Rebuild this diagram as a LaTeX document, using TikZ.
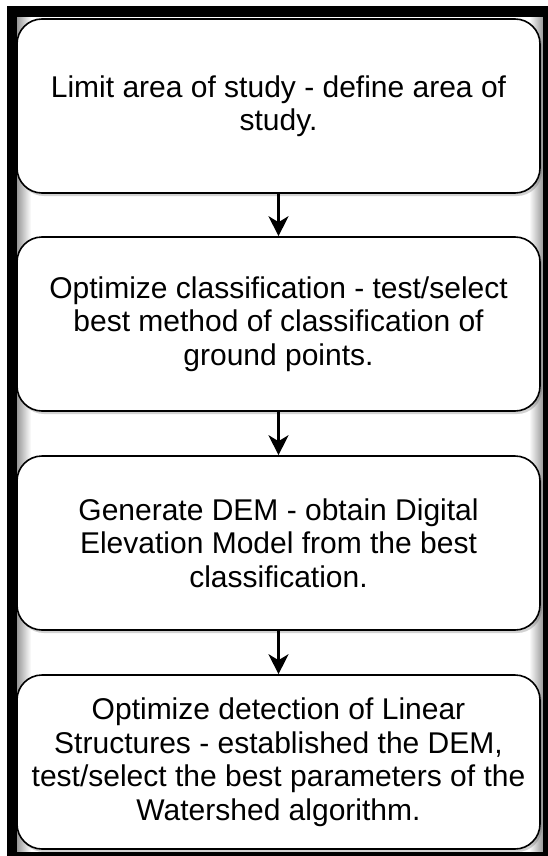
\documentclass[tikz,border=0pt]{standalone}
\usepackage{fontspec}
\setmainfont{Liberation Sans}
\usetikzlibrary{arrows.meta,shadows,fadings}
\tikzfading[name=fadeR, left color=transparent!0, right color=transparent!100]
\tikzfading[name=fadeL, left color=transparent!100, right color=transparent!0]
\begin{document}
\begin{tikzpicture}[x=1pt,y=-1pt,
  stepbox/.style={draw=black, line width=1.6pt, fill=white, rounded corners=25pt,
    minimum width=523pt, minimum height=174pt, align=center, inner sep=0pt,
    font=\fontsize{30}{33.5}\selectfont,
    drop shadow={shadow xshift=2pt, shadow yshift=-3pt, opacity=0.25, fill=black!70}},
  flow/.style={line width=2.2pt, -{Stealth[length=20pt,width=20pt,inset=6pt]}}]
\useasboundingbox (0,0) rectangle (547,856);
\fill[white] (0,0) rectangle (547,856);
% inner glow of the frame
\fill[black, opacity=0.4, path fading=fadeR] (17,16) rectangle (31,851);
\fill[black, opacity=0.4, path fading=fadeL] (529,16) rectangle (543,851);
\draw[line width=10.5pt] (12,11.3) rectangle (548,857);
\node[stepbox] (b1) at (278.5,106) {Limit area of study - define area of\\study.};
\node[stepbox] (b2) at (278.5,324) {Optimize classification - test/select\\best method of classification of\\ground points.};
\node[stepbox] (b3) at (278.5,543) {Generate DEM - obtain Digital\\Elevation Model from the best\\classification.};
\node[stepbox] (b4) at (278.5,762) {Optimize detection of Linear\\Structures - established the DEM,\\test/select the best parameters of the\\Watershed algorithm.};
\draw[flow] (b1) -- (b2);
\draw[flow] (b2) -- (b3);
\draw[flow] (b3) -- (b4);
\end{tikzpicture}
\end{document}
